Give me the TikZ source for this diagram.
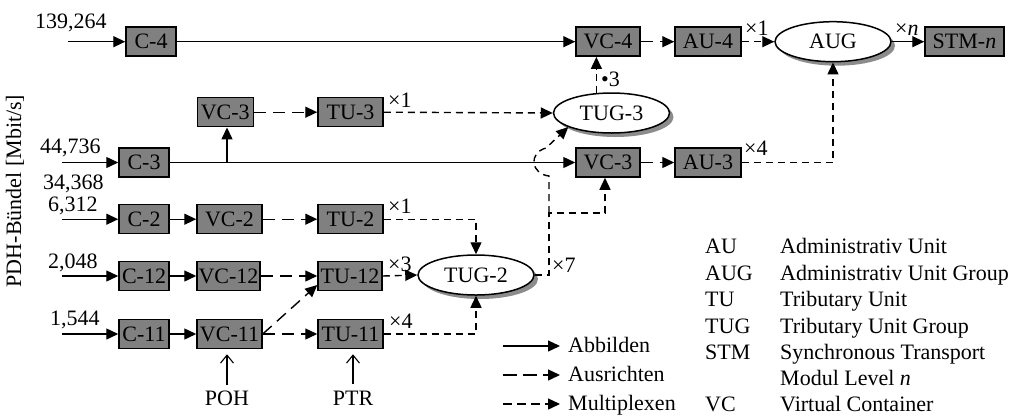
\documentclass[tikz,border=0pt]{standalone}
\usepackage{fontspec}
\setmainfont{Liberation Serif}
\usetikzlibrary{arrows.meta,shapes.geometric,shadows}
\definecolor{boxgray}{RGB}{128,128,128}
\newcommand\myfontL{\fontsize{22}{24}\selectfont}
\newcommand\myfontS{\fontsize{22}{24}\selectfont}
\tikzset{
  box/.style={draw, line width=1.5pt, fill=boxgray, minimum height=29pt, inner sep=0pt, font=\myfontL},
  ell/.style={ellipse, draw, line width=1.5pt, fill=white, minimum width=116pt, minimum height=40pt, inner sep=0pt, font=\myfontL,
    drop shadow={shadow xshift=4pt, shadow yshift=-4pt, fill=black!45, opacity=1}},
  con/.style={line width=1.4pt, -{Triangle[length=12pt,width=11pt]}},
  mapline/.style={con},
  alignline/.style={con, dash pattern=on 12pt off 7pt},
  muxline/.style={con, dash pattern=on 7pt off 5pt},
  lbl/.style={font=\myfontL, anchor=base west, inner sep=0pt},
  mult/.style={font=\myfontS, anchor=base west, inner sep=0pt},
  ptr/.style={line width=1.1pt, -{Straight Barb[length=8pt,width=13pt]}, shorten >=5pt},
}
\begin{document}
\begin{tikzpicture}[x=1pt,y=-1pt]
\useasboundingbox (0,0) rectangle (1019,418);

% boxes
\node[box, minimum width=50pt] (C4) at (151,41.7) {C-4};
\node[box, minimum width=64pt] (VC4) at (608,41.7) {VC-4};
\node[box, minimum width=66pt] (AU4) at (708,41.7) {AU-4};
\node[ell] (AUG) at (833,41.7) {AUG};
\node[box, minimum width=79pt] (STM) at (964.5,41.7) {STM-\textit{n}};

\node[box, minimum width=56pt] (VC3a) at (225.3,112.2) {VC-3};
\node[box, minimum width=65pt] (TU3) at (350.5,112.2) {TU-3};
\node[ell] (TUG3) at (611.5,113) {TUG-3};

\node[box, minimum width=50pt] (C3) at (144,162.5) {C-3};
\node[box, minimum width=64pt] (VC3b) at (608,162.5) {VC-3};
\node[box, minimum width=66pt] (AU3) at (708,162.5) {AU-3};

\node[box, minimum width=50pt] (C2) at (144,219.2) {C-2};
\node[box, minimum width=65pt] (VC2) at (229.5,219.2) {VC-2};
\node[box, minimum width=65pt] (TU2) at (350.5,219.2) {TU-2};

\node[box, minimum width=50pt] (C12) at (144,276) {C-12};
\node[box, minimum width=63pt] (VC12) at (228.5,276) {VC-12};
\node[box, minimum width=64pt] (TU12) at (350,276) {TU-12};
\node[ell] (TUG2) at (476,275) {TUG-2};

\node[box, minimum width=50pt] (C11) at (144,334) {C-11};
\node[box, minimum width=65pt] (VC11) at (229.5,334) {VC-11};
\node[box, minimum width=65pt] (TU11) at (350.5,334) {TU-11};

% inputs
\coordinate (in4) at (68,41.7);
\coordinate (in3) at (62,162.5);
\coordinate (in2) at (62,219.2);
\coordinate (in12) at (62,276);
\coordinate (in11) at (62,334);
\draw[mapline] (in4) -- (C4.west);
\draw[mapline] (in3) -- (C3.west);
\draw[mapline] (in2) -- (C2.west);
\draw[mapline] (in12) -- (C12.west);
\draw[mapline] (in11) -- (C11.west);

\node[lbl] (r1) at (35,28) {139,264};
\node[lbl] (r2) at (40,153) {44,736};
\node[lbl] (r3) at (43,189.5) {34,368};
\node[lbl] (r4) at (48,211.7) {6,312};
\node[lbl] (r5) at (48,268.3) {2,048};
\node[lbl] (r6) at (50,325.5) {1,544};

\node[font=\myfontL, rotate=90, inner sep=0pt] (ylab) at (15,191) {PDH-Bündel [Mbit/s]};

% row 1
\draw[mapline] (C4.east) -- (VC4.west);
\draw[alignline] (VC4.east) -- (AU4.west);
\draw[muxline] (AU4.east) -- (AUG.west);
\draw[mapline] (AUG.east) -- (STM.west);
\node[mult] (m1) at (745,35) {×1};
\node[mult] (mn) at (895,35) {×\textit{n}};

% TUG-3 to VC-4
\draw[muxline] (TUG3.127) -- (TUG3.127 |- VC4.south);
\node[mult] (m3) at (601,86) {•3};

% row 2
\draw[alignline] (VC3a.east) -- (TU3.west);
\draw[muxline] (TU3.east) -- (TUG3.west);
\node[mult] (mt3) at (388,107) {×1};

% row 3
\draw[mapline] (C3.east) -- (VC3b.west);
\coordinate (br) at (227,162.5);
\draw[mapline] (br) -- (br |- VC3a.south);
\draw[alignline] (VC3b.east) -- (AU3.west);
\draw[muxline] (AU3.east) -| (AUG.south);
\node[mult] (ma3) at (744,155) {×4};

% row 4
\draw[mapline] (C2.east) -- (VC2.west);
\draw[alignline] (VC2.east) -- (TU2.west);
\draw[muxline] (TU2.east) -| (TUG2.north);
\node[mult] (mt2) at (388,213) {×1};

% row 5
\draw[mapline] (C12.east) -- (VC12.west);
\draw[alignline] (VC12.east) -- (TU12.west);
\draw[muxline] (TU12.east) -- (TUG2.west);
\node[mult] (mt12) at (388,271) {×3};

% row 6
\draw[mapline] (C11.east) -- (VC11.west);
\draw[alignline] (VC11.east) -- (TU11.west);
\draw[alignline] (VC11.east) -- ([yshift=-9pt]TU12.west);
\draw[muxline] (TU11.east) -| (TUG2.south);
\node[mult] (mt11) at (389,328) {×4};

% TUG-2 outputs
\coordinate (j1) at (549,213);
\draw[muxline] (TUG2.east) -- (TUG2.east -| j1) -- (j1) -| ([xshift=-3pt]VC3b.south);
\draw[muxline] (j1) -- (549,176) .. controls (531,174) and (528,153) .. (546,148) -- (TUG3.198);
\node[mult] (m7) at (552,272) {×7};

% POH / PTR
\node[font=\myfontL, anchor=base, inner sep=0pt] (POH) at (227,405) {POH};
\node[font=\myfontL, anchor=base, inner sep=0pt] (PTR) at (353,405) {PTR};
\coordinate (poh0) at (227,385);
\coordinate (ptr0) at (353,384);
\draw[ptr] (poh0) -- (poh0 |- VC11.south);
\draw[ptr] (ptr0) -- (ptr0 |- TU11.south);

% legend
\coordinate (la) at (503,346);
\coordinate (lb) at (503,375);
\coordinate (lc) at (503,404);
\coordinate (la2) at (560,346);
\coordinate (lb2) at (560,375);
\coordinate (lc2) at (560,404);
\draw[mapline] (la) -- (la2);
\draw[con, dash pattern=on 14pt off 6pt] (lb) -- (lb2);
\draw[muxline, dash pattern=on 9pt off 5pt] (lc) -- (lc2);
\node[lbl] (ta) at (568,352.7) {Abbilden};
\node[lbl] (tb) at (568,381.7) {Ausrichten};
\node[lbl] (tc) at (568,410.5) {Multiplexen};

% glossary
\node[lbl] (g1) at (705,253) {AU};
\node[lbl] (g2) at (705,280) {AUG};
\node[lbl] (g3) at (705,306.5) {TU};
\node[lbl] (g4) at (705,333) {TUG};
\node[lbl] (g5) at (705,359) {STM};
\node[lbl] (g7) at (705,411.5) {VC};
\node[lbl] (h1) at (780,253) {Administrativ Unit};
\node[lbl] (h2) at (780,280) {Administrativ Unit Group};
\node[lbl] (h3) at (780,306.5) {Tributary Unit};
\node[lbl] (h4) at (780,333) {Tributary Unit Group};
\node[lbl] (h5) at (780,359) {Synchronous Transport};
\node[lbl] (h6) at (780,385) {Modul Level \textit{n}};
\node[lbl] (h7) at (780,411.5) {Virtual Container};
\end{tikzpicture}
\end{document}
